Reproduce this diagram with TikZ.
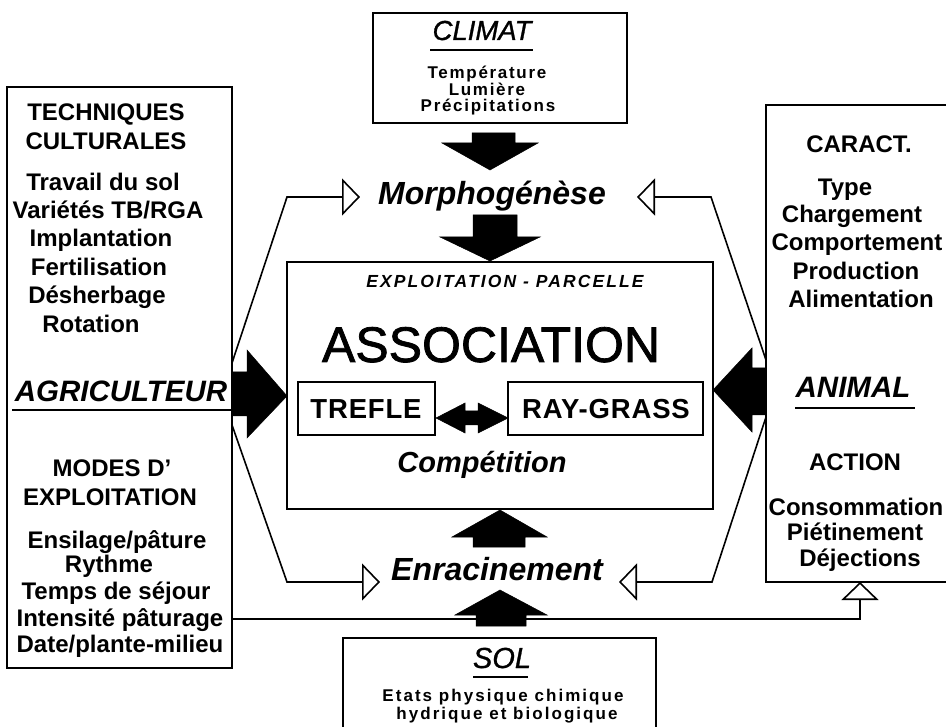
\documentclass[tikz,border=0pt]{standalone}
\usepackage{fontspec}
\setmainfont{Liberation Sans}
\usetikzlibrary{arrows.meta}
\begin{document}
\begin{tikzpicture}[x=1pt,y=-1pt,
  box/.style={draw, line width=1.5pt, inner sep=0pt, outer sep=0pt, anchor=north west},
  body/.style={font=\fontsize{24}{26}\selectfont\bfseries, inner sep=0pt, anchor=base},
  head/.style={font=\fontsize{29.5}{31}\selectfont\bfseries\itshape, inner sep=0pt, anchor=base},
  titl/.style={font=\fontsize{28}{30}\selectfont\itshape, inner sep=0pt, anchor=base},
  small/.style={font=\fontsize{17}{18}\selectfont\bfseries\addfontfeatures{LetterSpace=10}, inner sep=0pt, anchor=base},
  soltxt/.style={font=\fontsize{17}{18}\selectfont\bfseries\addfontfeatures{LetterSpace=12}, inner sep=0pt, anchor=base},
  proc/.style={font=\fontsize{32}{34}\selectfont\bfseries\itshape, inner sep=0pt, anchor=base},
  plant/.style={font=\fontsize{27.5}{29}\selectfont\bfseries\addfontfeatures{LetterSpace=3}, inner sep=0pt, anchor=base},
  link/.style={line width=1.6pt, line join=miter, -{Triangle[open, length=18pt, width=37pt]}},
  bigarrow/.style={fill=black, draw=black, line width=0.5pt, line join=miter},
  rulel/.style={line width=2.5pt}
]
\useasboundingbox (0,0) rectangle (946,727);

% ---------- boxes
\node[box, minimum width=225pt, minimum height=581pt] (left) at (7,87) {};
\node[box, minimum width=200pt, minimum height=477pt] (right) at (766,105) {};
\node[box, minimum width=426pt, minimum height=247pt] (center) at (287,262) {};
\node[box, minimum width=254pt, minimum height=110pt] (climat) at (373,13) {};
\node[box, minimum width=313pt, minimum height=110pt] (sol) at (343,638) {};
\node[box, minimum width=137pt, minimum height=53pt] (trefle) at (298,382) {};
\node[box, minimum width=195pt, minimum height=53pt] (ray) at (508,382) {};

% ---------- CLIMAT box text
\node[titl, font=\fontsize{27.5}{30}\selectfont\itshape\addfontfeatures{FakeBold=1}] (tclimat) at (482,40) {CLIMAT};
\draw[rulel] (430,50) coordinate (cu1) -- (533,50) coordinate (cu2);
\node[small] (temp) at (487,79) {Température};
\node[small] (lum) at (487,96) {Lumière};
\node[small] (prec) at (488,112) {Précipitations};

% ---------- left box text
\node[body] (l1) at (106,121) {TECHNIQUES};
\node[body] (l2) at (106,150) {CULTURALES};
\node[body] (l3) at (103,191) {Travail du sol};
\node[body] (l4) at (108,219) {Variétés TB/RGA};
\node[body] (l5) at (101,247) {Implantation};
\node[body] (l6) at (99,276) {Fertilisation};
\node[body] (l7) at (97,304) {Désherbage};
\node[body] (l8) at (91,333) {Rotation};
\node[head] (agri) at (121,402) {AGRICULTEUR};
\draw[rulel] (12,410) coordinate (au1) -- (232,410) coordinate (au2);
\node[body] (l9) at (112,476) {MODES D'};
\node[body] (l10) at (110,505) {EXPLOITATION};
\node[body] (l11) at (117,548) {Ensilage/pâture};
\node[body] (l12) at (109,572) {Rythme};
\node[body] (l13) at (116,599) {Temps de séjour};
\node[body] (l14) at (120,626) {Intensité pâturage};
\node[body] (l15) at (120,652) {Date/plante-milieu};

% ---------- right box text
\node[body] (r1) at (859,153) {CARACT.};
\node[body] (r2) at (845,196) {Type};
\node[body] (r3) at (852,223) {Chargement};
\node[body] (r4) at (857,251) {Comportement};
\node[body] (r5) at (856,280) {Production};
\node[body] (r6) at (861,308) {Alimentation};
\node[head] (animal) at (853,398) {ANIMAL};
\draw[rulel] (795,408) coordinate (nu1) -- (915,408) coordinate (nu2);
\node[body] (r7) at (855,471) {ACTION};
\node[body] (r8) at (856,515) {Consommation};
\node[body] (r9) at (855,540) {Piétinement};
\node[body] (r10) at (860,566) {Déjections};

% ---------- center box text
\node[inner sep=0pt, anchor=base, font=\fontsize{17.5}{19}\selectfont\bfseries\itshape\addfontfeatures{LetterSpace=12}] (expl) at (505,288) {EXPLOITATION - PARCELLE};
\node[inner sep=0pt, anchor=base, font=\fontsize{50}{52}\selectfont\addfontfeatures{FakeBold=1.5}] (assoc) at (491,362) {ASSOCIATION};
\node[plant] (ttrefle) at (366,419) {TREFLE};
\node[plant] (tray) at (606,419) {RAY-GRASS};
\node[proc, font=\fontsize{29}{31}\selectfont\bfseries\itshape] (comp) at (482,472) {Compétition};

% ---------- processes
\node[proc] (morph) at (492,205) {Morphogénèse};
\node[proc] (enrac) at (497,580) {Enracinement};

% ---------- SOL box text
\node[titl, font=\fontsize{29}{31}\selectfont\itshape\addfontfeatures{FakeBold=1}] (tsol) at (502,668) {SOL};
\draw[rulel] (473,677) coordinate (su1) -- (528,677) coordinate (su2);
\node[soltxt] (s1) at (503,701) {Etats physique chimique};
\node[soltxt] (s2) at (507,719) {hydrique et biologique};

% ---------- open-arrow connectors
\coordinate (lu0) at (232,363); \coordinate (lu1) at (287,197); \coordinate (mL) at (360,197);
\coordinate (ld0) at (232,425); \coordinate (ld1) at (287,582); \coordinate (eL) at (380,582);
\coordinate (ru0) at (766,360); \coordinate (ru1) at (711,197); \coordinate (mR) at (637,197);
\coordinate (rd0) at (766,417); \coordinate (rd1) at (712,582); \coordinate (eR) at (619,582);
\coordinate (b0) at (232,619); \coordinate (b1) at (860,619); \coordinate (bT) at (860,582);
\draw[link] (lu0) -- (lu1) -- (mL);
\draw[link] (ld0) -- (ld1) -- (eL);
\draw[link] (ru0) -- (ru1) -- (mR);
\draw[link] (rd0) -- (rd1) -- (eR);
\draw[link] (b0) -- (b1) -- (bT);

% ---------- big black arrows
\fill[bigarrow] (472,133) -- (515,133) -- (515,143) -- (538,143) -- (490,170) -- (442,143) -- (472,143) -- cycle;
\fill[bigarrow] (473,215) -- (517,215) -- (517,237) -- (540,237) -- (490,261) -- (440,237) -- (473,237) -- cycle;
\fill[bigarrow] (473,547) -- (525,547) -- (525,537) -- (547,537) -- (500,510) -- (452,537) -- (473,537) -- cycle;
\fill[bigarrow] (476,626) -- (526,626) -- (526,615) -- (547,615) -- (500,590) -- (455,615) -- (476,615) -- cycle;
\fill[bigarrow] (232,372) -- (247,372) -- (247,350) -- (287,396) -- (247,438) -- (247,416) -- (232,416) -- cycle;
\fill[bigarrow] (766,368) -- (752,368) -- (752,348) -- (713,390) -- (752,432) -- (752,415) -- (766,415) -- cycle;
\fill[bigarrow] (436,418) -- (465,403) -- (465,411) -- (478,411) -- (478,403) -- (508,418) -- (478,433) -- (478,425) -- (465,425) -- (465,433) -- cycle;
\end{tikzpicture}
\end{document}
